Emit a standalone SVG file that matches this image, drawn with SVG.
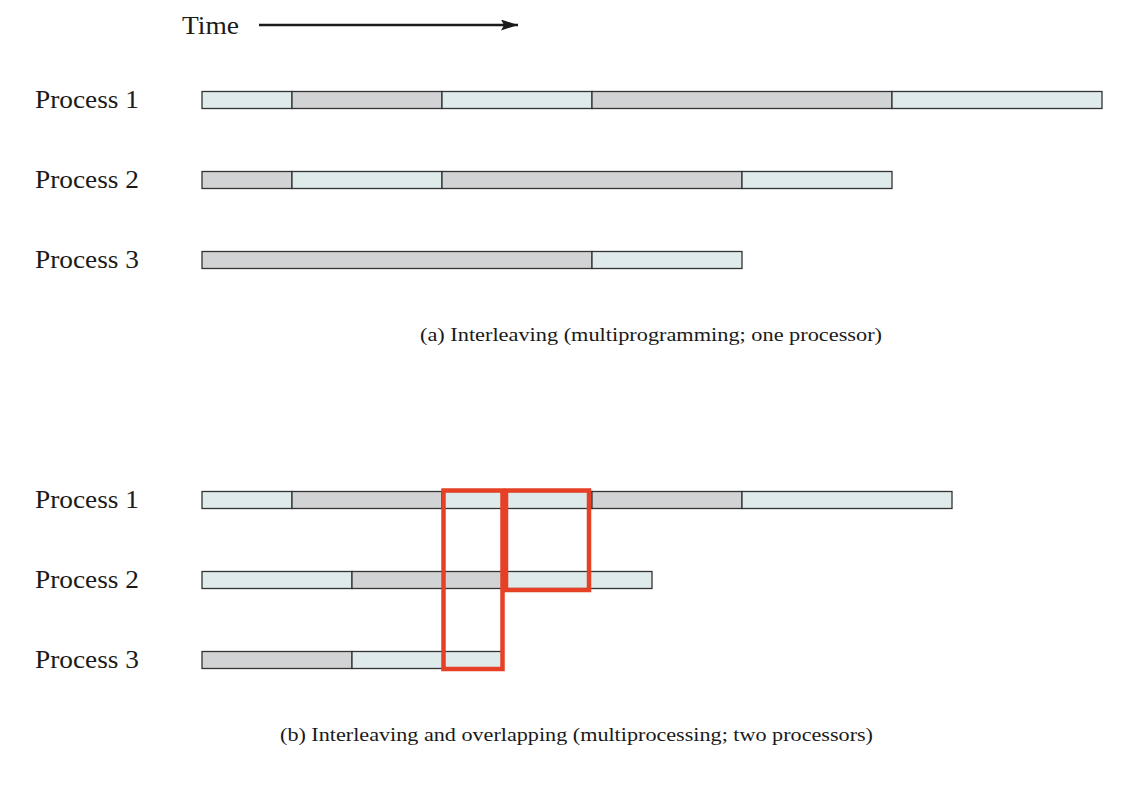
<svg xmlns="http://www.w3.org/2000/svg" width="1148" height="788" viewBox="0 0 1148 788">
<style>
.t{font-family:"Liberation Serif","Times New Roman",serif;fill:#1a1a1a}
.lbl{font-size:25px}
.cap{font-size:19px}
.l{fill:#DFEBEB;stroke:#333;stroke-width:1.3}
.g{fill:#D2D3D4;stroke:#333;stroke-width:1.3}
.r{fill:none;stroke:#E64027;stroke-width:4.5}
</style>
<defs>
<marker id="ah" viewBox="0 0 17 11" refX="17" refY="5.5" markerWidth="17" markerHeight="11" markerUnits="userSpaceOnUse" orient="auto">
<path d="M0,0 L17,5.5 L0,11 L3,5.5 Z" fill="#1a1a1a"/>
</marker>
</defs>
<rect width="1148" height="788" fill="#fff"/>
<g id="time">
<text class="t lbl" x="182" y="34" textLength="57" lengthAdjust="spacingAndGlyphs">Time</text>
</g>
<g id="connectors">
<line x1="259" y1="25" x2="518" y2="25" stroke="#1a1a1a" stroke-width="2.6" marker-end="url(#ah)"/>
</g>
<g id="a-p1">
<text class="t lbl" x="35" y="108" textLength="104" lengthAdjust="spacingAndGlyphs">Process 1</text>
<rect class="l" x="202" y="91.5" width="90" height="17"/>
<rect class="g" x="292" y="91.5" width="150" height="17"/>
<rect class="l" x="442" y="91.5" width="150" height="17"/>
<rect class="g" x="592" y="91.5" width="300" height="17"/>
<rect class="l" x="892" y="91.5" width="210" height="17"/>
</g>
<g id="a-p2">
<text class="t lbl" x="35" y="188" textLength="104" lengthAdjust="spacingAndGlyphs">Process 2</text>
<rect class="g" x="202" y="171.5" width="90" height="17"/>
<rect class="l" x="292" y="171.5" width="150" height="17"/>
<rect class="g" x="442" y="171.5" width="300" height="17"/>
<rect class="l" x="742" y="171.5" width="150" height="17"/>
</g>
<g id="a-p3">
<text class="t lbl" x="35" y="268" textLength="104" lengthAdjust="spacingAndGlyphs">Process 3</text>
<rect class="g" x="202" y="251.5" width="390" height="17"/>
<rect class="l" x="592" y="251.5" width="150" height="17"/>
</g>
<g id="cap-a">
<text class="t cap" x="420" y="341" textLength="462" lengthAdjust="spacingAndGlyphs">(a) Interleaving (multiprogramming; one processor)</text>
</g>
<g id="b-p1">
<text class="t lbl" x="35" y="508" textLength="104" lengthAdjust="spacingAndGlyphs">Process 1</text>
<rect class="l" x="202" y="491.5" width="90" height="17"/>
<rect class="g" x="292" y="491.5" width="150" height="17"/>
<rect class="l" x="442" y="491.5" width="150" height="17"/>
<rect class="g" x="592" y="491.5" width="150" height="17"/>
<rect class="l" x="742" y="491.5" width="210" height="17"/>
</g>
<g id="b-p2">
<text class="t lbl" x="35" y="588" textLength="104" lengthAdjust="spacingAndGlyphs">Process 2</text>
<rect class="l" x="202" y="571.5" width="150" height="17"/>
<rect class="g" x="352" y="571.5" width="150" height="17"/>
<rect class="l" x="502" y="571.5" width="150" height="17"/>
</g>
<g id="b-p3">
<text class="t lbl" x="35" y="668" textLength="104" lengthAdjust="spacingAndGlyphs">Process 3</text>
<rect class="g" x="202" y="651.5" width="150" height="17"/>
<rect class="l" x="352" y="651.5" width="150" height="17"/>
</g>
<g id="highlight">
<rect class="r" x="443.5" y="490.5" width="59" height="178.5"/>
<rect class="r" x="506" y="490.5" width="83" height="99.5"/>
</g>
<g id="cap-b">
<text class="t cap" x="280" y="741" textLength="593" lengthAdjust="spacingAndGlyphs">(b) Interleaving and overlapping (multiprocessing; two processors)</text>
</g>
</svg>
